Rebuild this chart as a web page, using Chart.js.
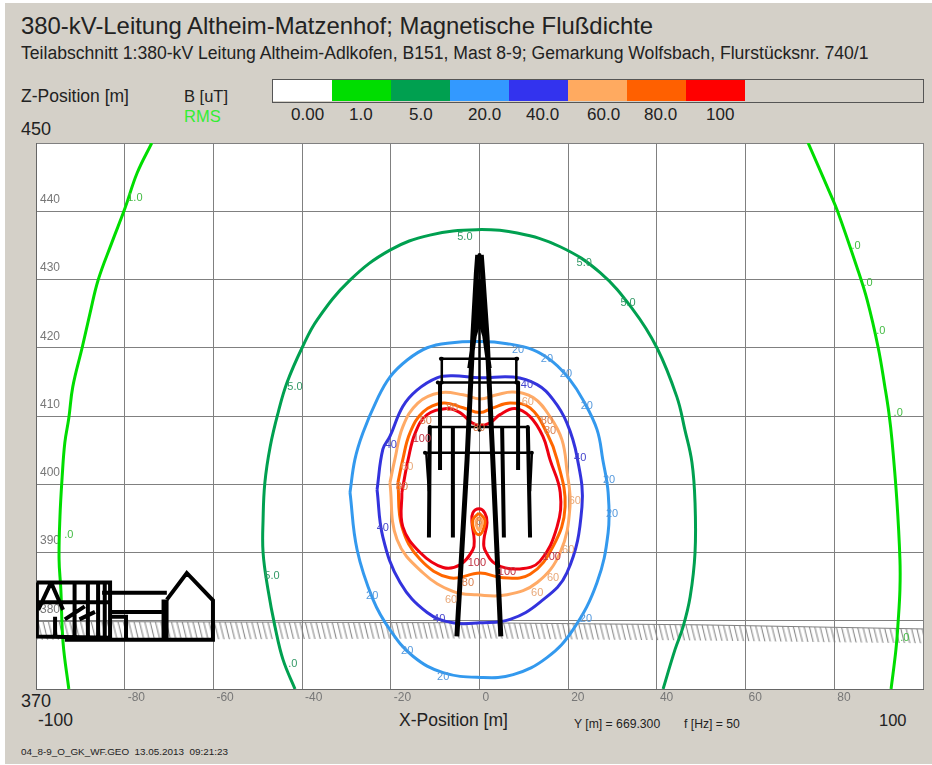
<!DOCTYPE html>
<html>
<head>
<meta charset="utf-8">
<title>Magnetische Flußdichte</title>
<script src="https://cdn.jsdelivr.net/npm/chart.js@4/dist/chart.umd.min.js"></script>
<style>
  html, body { margin: 0; padding: 0; background: #fff; }
  #panel { position: absolute; left: 5px; top: 3px; width: 927px; height: 761px; background: #d4d0c8; }
  #chart { position: absolute; left: 0; top: 0; }
  .t { position: absolute; font-family: "Liberation Sans", Arial, sans-serif; color: #222; white-space: nowrap; line-height: 1; }
  .cell { position: absolute; top: 80px; height: 21px; }
  #bar { position: absolute; left: 272px; top: 79px; width: 650px; height: 22px; border: 1px solid #555; box-sizing: content-box; }
</style>
</head>
<body>
<div id="panel"></div>
<div id="bar"></div>
<div id="cells"></div>
<div id="ticks"></div>
<div class="t" style="left:21px;top:14px;font-size:23.9px">380-kV-Leitung Altheim-Matzenhof; Magnetische Flußdichte</div>
<div class="t" style="left:21px;top:45px;font-size:17.6px">Teilabschnitt 1:380-kV Leitung Altheim-Adlkofen, B151, Mast 8-9; Gemarkung Wolfsbach, Flurstücksnr. 740/1</div>
<div class="t" style="left:21px;top:88px;font-size:17.5px">Z-Position [m]</div>
<div class="t" style="left:184px;top:88px;font-size:16.5px">B [uT]</div>
<div class="t" style="left:184px;top:108px;font-size:16.5px;color:#33ee33">RMS</div>
<div class="t" style="left:21px;top:120px;font-size:18px">450</div>
<div class="t" style="left:21px;top:692px;font-size:18px">370</div>
<div class="t" style="left:38px;top:712px;font-size:17.5px">-100</div>
<div class="t" style="left:879px;top:712px;font-size:16.5px">100</div>
<div class="t" style="left:399px;top:712px;font-size:17.5px">X-Position [m]</div>
<div class="t" style="left:574px;top:718px;font-size:12.2px">Y [m] = 669.300</div>
<div class="t" style="left:684px;top:718px;font-size:12.2px">f [Hz] = 50</div>
<div class="t" style="left:21px;top:747px;font-size:9.9px">04_8-9_O_GK_WF.GEO&nbsp; 13.05.2013&nbsp; 09:21:23</div>
<canvas id="chart" width="932" height="765"></canvas>
<script>
// Legend classes
const legendLabels = ['0.00', '1.0', '5.0', '20.0', '40.0', '60.0', '80.0', '100'];
const legendColors = ['#ffffff', '#00dd00', '#00a050', '#3399ff', '#3333ee', '#ffaa60', '#ff6000', '#ff0000'];

// Axes
const xTicks = [-100, -80, -60, -40, -20, 0, 20, 40, 60, 80, 100];
const zTicks = [370, 380, 390, 400, 410, 420, 430, 440, 450];

// Iso lines, X [m] and Z [m]
const line1LeftX = [-73.9, -77.2, -79.9, -82.9, -86.0, -87.8, -89.6, -91.7, -92.6, -93.5, -94.1, -94.6, -94.8, -94.4, -93.9, -92.6];
const line1LeftZ = [450, 445.6, 440.5, 435.4, 429.9, 425.1, 420, 414.3, 409.7, 406.1, 401.1, 395.2, 389, 384.6, 376.8, 370];
const line1RightX = [74.1, 79.0, 80.8, 85.1, 87.4, 89.9, 91.4, 92.3, 93.0, 94.1, 94.8, 94.8, 94.4, 93.9, 92.8];
const line1RightZ = [450, 442.7, 439.9, 431.8, 427, 420, 414.3, 410.5, 406.5, 397.7, 389, 384.6, 379.9, 375.8, 370];
const line5X = [-41.6, -44.3, -46.1, -47.7, -48.8, -48.8, -48.4, -47.2, -45.4, -43.4, -40, -36.6, -29.2, -20.2, -11.2, -0.6, 8.5, 18.2, 27.2, 34.6, 40, 44.5, 46.3, 47.9, 48.6, 48.6, 47.5, 45.9, 44.1, 41.4];
const line5Z = [370, 374.3, 379.1, 384.6, 390, 394.8, 400.2, 405.5, 410.5, 414.9, 420, 424.1, 429.9, 434.3, 436.5, 437.3, 436.8, 434.8, 431, 425.6, 420, 412.8, 408, 403.2, 397.3, 390, 383.5, 379.1, 375.8, 370];
const line20X = [-29.2, -28.1, -26.3, -23.1, -20.2, -16.3, -11.8, -6.7, 0.1, 6.2, 12.1, 16.6, 20.4, 23.3, 26.5, 27.8, 29, 29, 26.5, 21.1, 15.2, 7.6, 0.1, -8.2, -15, -20.2, -24, -27.6, -29.2];
const line20Z = [398.8, 403.6, 407.5, 412.4, 415.7, 418.2, 420, 420.7, 420.9, 420.6, 419.7, 417.9, 415.3, 412.4, 408, 403.6, 398.8, 392.9, 385.6, 378.7, 374.6, 372.1, 371.7, 372.4, 374.8, 378.7, 383.1, 390.4, 398.8];
const line40X = [-23.1, -21.8, -20.2, -17.3, -14.1, -9.6, -6, 0.1, 7.6, 13, 16.6, 19.7, 22, 23.1, 19.7, 13.6, 6.9, 0.1, -6, -11.8, -17.9, -21.8, -23.1];
const line40Z = [399.2, 405.1, 407, 411.4, 413.8, 415.6, 415.9, 415.6, 415.7, 414.6, 412.4, 409, 404, 396.7, 387, 382.7, 380.2, 379.7, 379.7, 381.2, 385.6, 392.3, 399.2];
const line60X = [-20.2, -19.1, -17.3, -13.9, -8.9, -3.7, 0.1, 3.9, 7.6, 12.1, 15.9, 18.6, 19.7, 20.4, 18.2, 13, 6.2, -0.6, -6, -12.7, -18.6, -20.2];
const line60Z = [400.2, 403.6, 408.4, 411.9, 413.4, 413.1, 412.5, 413.1, 413.5, 412.7, 409.9, 406.5, 402.1, 396.7, 390, 385.6, 383.8, 383.8, 384.3, 387, 391.9, 400.2];
const line80X = [-18.4, -17.3, -15.7, -12.7, -8.2, -3.7, 0.1, 3, 6.9, 11.4, 15.2, 17.5, 19.3, 16.6, 11.4, 5.3, 0.1, -6.7, -13.4, -17.5, -18.4];
const line80Z = [400.2, 403.6, 407.5, 410.6, 411.9, 411.2, 410.5, 411.2, 411.9, 411.2, 407.5, 403.6, 396.7, 390.9, 386.8, 386.3, 387, 386.3, 389, 393.8, 400.2];
const line100X = [-17.5, -16.1, -14.5, -11.8, -7.3, -4.4, -1.7, 0.1, 2.4, 4.6, 8, 11.4, 14.3, 15.9, 18.2, 17.5, 13.6, 9.1, 3.9, 1.2, 1, 1.7, 1.2, -0.1, -1.5, -1.7, -1.2, -1.5, -4.4, -8.2, -13.4, -17.3, -17.5];
const line100Z = [398.8, 403.6, 407.5, 410.2, 411.1, 410.5, 409, 408.6, 409, 410.2, 411.1, 409.9, 407, 403.6, 398.8, 393.8, 388.7, 387.6, 388.2, 390.4, 391.9, 394.4, 395.8, 396.4, 395.8, 394.4, 391.9, 390.4, 388.2, 387.8, 390, 393.8, 398.8];
const inner80X = [-0.1, 1.2, 0.8, -0.1, -1.2, -1.5, -0.1];
const inner80Z = [395.8, 394.8, 393.3, 392.6, 393.3, 394.8, 395.8];
const inner60X = [-0.1, 0.6, -0.1, -0.8, -0.1];
const inner60Z = [395.2, 394.5, 393.3, 394.5, 395.2];

// Ground profile
const groundX = [-100, 0, 50, 75, 100];
const groundTopZ = [379.9, 379.7, 379.4, 379.1, 378.8];
const groundBottomZ = [377.2, 377.4, 377.1, 376.9, 376.7];

// Mast, null breaks the line
const mastLegsX = [-5.1, -2.8, -1.5, -0.7, -0.4, null, 4.8, 3, 1.7, 0.7, 0.4, null, -2.2, 0.6, null, 2.2, -0.6, null, -1.5, 0.7, null, 1.5, -0.7];
const mastLegsZ = [377.7, 403.6, 421.6, 431, 433.6, null, 377.7, 403.6, 421.6, 431, 433.6, null, 417, 430, null, 417, 430, null, 421, 426, null, 421, 426];
const mastArmsX = [-8.7, 8.5, null, -9.4, 8.7, null, -11.2, 10.9, null, -12.3, 11.8, null, -8.5, -8.5, null, 8.3, 8.3, null, 0, 0];
const mastArmsZ = [418.4, 418.4, null, 414.9, 414.9, null, 408.4, 408.4, null, 404.6, 404.6, null, 418.4, 414.9, null, 418.4, 414.9, null, 433.6, 408];
const mastStringsX = [-8.9, -8.9, null, 8.7, 8.7, null, -11.2, -11.4, null, 10.9, 11.4, null, -6, -6, null, 5.1, 5.5];
const mastStringsZ = [414.9, 402.1, null, 414.9, 402.1, null, 408.4, 392.2, null, 408.4, 392.2, null, 408.4, 392.2, null, 408.4, 392.2];
const mastDoubleX = [-12, -11.4, null, 11.8, 11.4];
const mastDoubleZ = [404.6, 399, null, 404.6, 399];

// Buildings at the left edge
const housesX = [-70.5, -66, -60.1, -60.1, -93.5, null, -99.8, -86, -83.3, -83.3, -99.8, -99.8, null, -85.1, -70.5, null, -83.3, -71.6, null, -83.3, -79.7, -79.7, null, -96.6, -99.5, null, -96.6, -93.9, null, -99.8, -83.3, null, -91.3, -91.3, null, -88.3, -88.3, null, -86, -86, null, -84.5, -84.5, null, -95.7, -95.7, null, -93.5, -89, null, -90.2, -86.7];
const housesZ = [383.1, 387, 383, 377.2, 377.2, null, 385.6, 385.6, 385.6, 377.5, 377.7, 385.6, null, 384.1, 384.1, null, 381.3, 381.3, null, 380.6, 380.6, 377.4, null, 385.6, 381.6, null, 385.6, 381.6, null, 382.7, 382.7, null, 385.6, 377.5, null, 385.6, 377.5, null, 385.6, 377.5, null, 385.6, 377.5, null, 380.6, 377.7, null, 380.2, 382.1, null, 380.2, 381.3];
const houseWallX = [-70.9, -70.9];
const houseWallZ = [383.1, 377.2];

// Labels on the iso lines
const labelTexts = ['1.0', '.0', '.0', '.0', '.0', '.0', '.0',
  '5.0', '5.0', '5.0', '5.0', '5.0', '.0',
  '20', '20', '20', '20', '20', '20', '20', '20', '20', '20',
  '40', '40', '40', '40', '40',
  '60', '60', '60', '60', '60', '60', '60',
  '80', '80', '80', '80', '80', '80', '80', '8',
  '100', '100', '100', '100'];
const labelLevels = [1, 1, 1, 1, 1, 1, 1,
  5, 5, 5, 5, 5, 5,
  20, 20, 20, 20, 20, 20, 20, 20, 20, 20,
  40, 40, 40, 40, 40,
  60, 60, 60, 60, 60, 60, 60,
  80, 80, 80, 80, 80, 80, 80, 80,
  100, 100, 100, 100];
const labelX = [-77.7, -92.6, 84.9, 87.6, 90.5, 94.4, 95.9,
  -3.3, 23.6, 33.5, -41.6, -46.8, -42.1,
  8.7, 15.2, 19.5, 24.2, 29.2, 29.9, 24, -24.2, -16.3, -8.2,
  10.7, -20, 22.7, -21.8, -9.1,
  10.9, -16.3, 21.5, 20, 16.6, 13, -6.4,
  -12.1, 15.2, -17.5, -2.6, -6.2, 15.9, -0.1, -0.1,
  -13, -0.6, 6.2, 16.3];
const labelZ = [441.9, 392.6, 434.9, 429.5, 422.5, 410.5, 377.5,
  436.2, 432.4, 426.6, 414.3, 386.5, 373.7,
  419.7, 418.4, 416.2, 411.4, 400.7, 395.7, 380.2, 383.7, 375.6, 371.8,
  414.6, 405.8, 403.9, 393.6, 380.2,
  412.1, 402.6, 397.6, 390.3, 386.3, 384.1, 383,
  409.3, 409.3, 399.6, 385.6, 411.2, 407.8, 408.3, 394.5,
  406.7, 388.4, 387.2, 389.4];

const levelColors = { 1: '#00dd00', 5: '#00a050', 20: '#3399ee', 40: '#3333dd', 60: '#ffaa66', 80: '#ff6600', 100: '#ee0011' };
const labelColors = { 1: '#44bb44', 5: '#339966', 20: '#5599dd', 40: '#4444cc', 60: '#e8a878', 80: '#d98050', 100: '#c03040' };

// Colour bar above the plot
const cellEdges = [273, 332, 391, 449.5, 509, 568, 627, 686, 745];
const legendTextLeft = [291, 349, 409, 468, 526, 587, 644, 706];
legendColors.forEach((c, i) => {
  const cell = document.createElement('div');
  cell.className = 'cell';
  cell.style.left = cellEdges[i] + 'px';
  cell.style.width = (cellEdges[i + 1] - cellEdges[i]) + 'px';
  cell.style.background = c;
  document.getElementById('cells').appendChild(cell);
  const label = document.createElement('div');
  label.className = 't';
  label.style.left = legendTextLeft[i] + 'px';
  label.style.top = '106px';
  label.style.fontSize = '17px';
  label.textContent = legendLabels[i];
  document.getElementById('ticks').appendChild(label);
});

function points(xs, zs) {
  return xs.map((x, i) => ({ x: x, y: zs[i] }));
}

function isoLine(xs, zs, level) {
  return { data: points(xs, zs), showLine: true, pointRadius: 0, borderColor: levelColors[level], borderWidth: 3, tension: 0.4 };
}

function blackLine(xs, zs, width, dots) {
  return { data: points(xs, zs), showLine: true, pointRadius: dots || 0, pointBackgroundColor: '#000', pointBorderWidth: 0, borderColor: '#000', borderWidth: width, tension: 0 };
}

// Hatch for the ground, tile wraps without a seam
function hatchPattern() {
  const tile = document.createElement('canvas');
  tile.width = 5;
  tile.height = 20;
  const c = tile.getContext('2d');
  c.strokeStyle = '#808080';
  c.lineWidth = 1;
  for (let dx = -5; dx <= 5; dx += 5) {
    c.beginPath();
    c.moveTo(dx, 0);
    c.lineTo(dx + 5, 20);
    c.stroke();
  }
  const pattern = c.createPattern(tile, 'repeat');
  pattern.setTransform(new DOMMatrix().scale(1.07));
  return pattern;
}

const plotBackground = {
  id: 'plotBackground',
  beforeDraw(chart) {
    const a = chart.chartArea;
    chart.ctx.fillStyle = '#fff';
    chart.ctx.fillRect(a.left, a.top, a.width, a.height);
  }
};

const isoLabels = {
  id: 'isoLabels',
  afterDatasetsDraw(chart) {
    const ctx = chart.ctx;
    ctx.save();
    ctx.font = '11px "Liberation Sans", Arial, sans-serif';
    ctx.textAlign = 'center';
    ctx.textBaseline = 'middle';
    labelTexts.forEach((t, i) => {
      ctx.fillStyle = labelColors[labelLevels[i]];
      ctx.fillText(t, chart.scales.x.getPixelForValue(labelX[i]), chart.scales.y.getPixelForValue(labelZ[i]));
    });
    ctx.restore();
  }
};

const ctx = document.getElementById('chart').getContext('2d');
new Chart(ctx, {
  type: 'scatter',
  data: {
    datasets: [
      blackLine(mastLegsX, mastLegsZ, 5),
      blackLine(mastStringsX, mastStringsZ, 4),
      blackLine(mastDoubleX, mastDoubleZ, 2.5),
      blackLine(mastArmsX, mastArmsZ, 2.5, 2),
      blackLine(housesX, housesZ, 4),
      blackLine(houseWallX, houseWallZ, 7),
      isoLine(inner60X, inner60Z, 60),
      isoLine(inner80X, inner80Z, 80),
      isoLine(line100X, line100Z, 100),
      isoLine(line80X, line80Z, 80),
      isoLine(line60X, line60Z, 60),
      isoLine(line40X, line40Z, 40),
      isoLine(line20X, line20Z, 20),
      isoLine(line5X, line5Z, 5),
      isoLine(line1LeftX, line1LeftZ, 1),
      isoLine(line1RightX, line1RightZ, 1),
      { data: points(groundX, groundTopZ), showLine: true, pointRadius: 0, borderColor: '#808080', borderWidth: 1, fill: '+1', backgroundColor: hatchPattern() },
      { data: points(groundX, groundBottomZ), showLine: true, pointRadius: 0, borderWidth: 0 }
    ]
  },
  options: {
    responsive: false,
    animation: false,
    layout: { padding: { left: 36, right: 9, top: 143, bottom: 76 } },
    plugins: { legend: { display: false }, tooltip: { enabled: false } },
    scales: {
      x: {
        type: 'linear',
        min: xTicks[0],
        max: xTicks[xTicks.length - 1],
        afterFit: axis => { axis.height = 0; },
        afterBuildTicks: axis => { axis.ticks = xTicks.map(v => ({ value: v })); },
        border: { color: '#666', width: 1 },
        grid: { color: '#808080', lineWidth: 1, drawTicks: false },
        ticks: {
          autoSkip: false,
          maxRotation: 0,
          mirror: true,   // no clip to the axis box, labels stay inside the plot
          align: 'start',
          labelOffset: 3,
          padding: -16,
          color: '#777',
          font: { family: '"Liberation Sans", Arial, sans-serif', size: 12 },
          callback: v => (Math.abs(v) === 100 ? '' : v)
        }
      },
      y: {
        type: 'linear',
        min: zTicks[0],
        max: zTicks[zTicks.length - 1],
        afterFit: axis => { axis.width = 0; },
        afterBuildTicks: axis => { axis.ticks = zTicks.map(v => ({ value: v })); },
        border: { color: '#666', width: 1 },
        grid: { color: '#808080', lineWidth: 1, drawTicks: false },
        ticks: {
          mirror: true,
          padding: 4,
          labelOffset: -11.5,
          color: '#777',
          font: { family: '"Liberation Sans", Arial, sans-serif', size: 12 },
          callback: v => ((v === 370 || v === 450) ? '' : v)
        }
      }
    }
  },
  plugins: [plotBackground, isoLabels]
});
</script>
</body>
</html>
